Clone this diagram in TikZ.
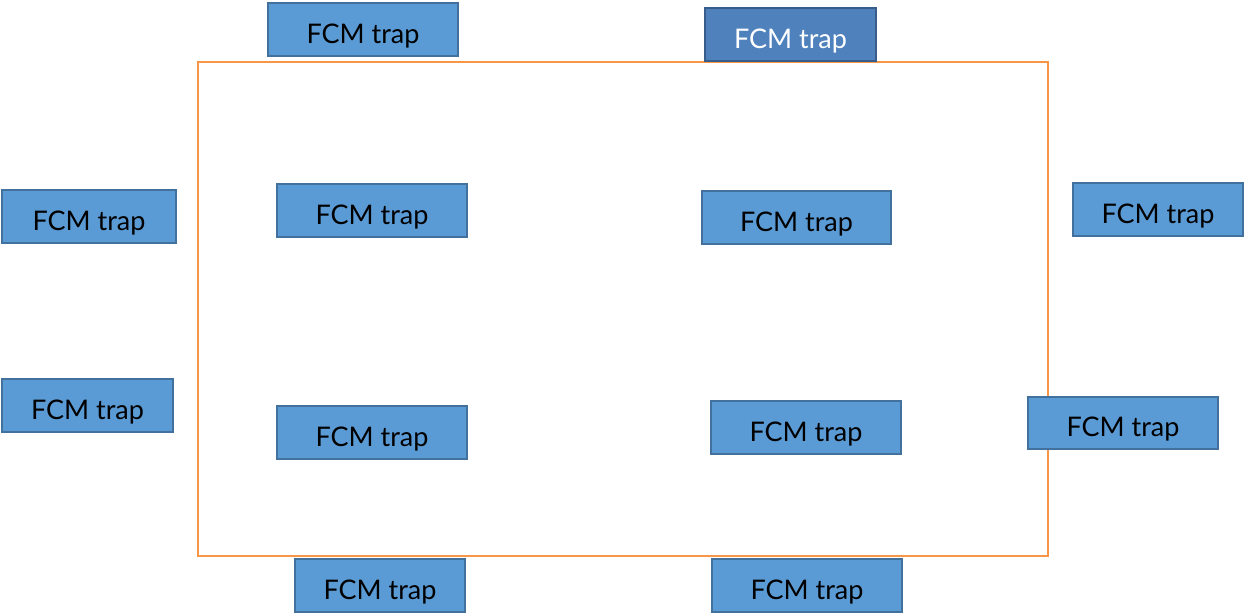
\documentclass[tikz,border=0pt]{standalone}
\usepackage{fontspec}
\setmainfont{Lato}
\definecolor{trapfill}{HTML}{5B9BD5}
\definecolor{trapline}{HTML}{41719C}
\definecolor{darkfill}{HTML}{4F81BD}
\definecolor{darkline}{HTML}{385D8A}
\definecolor{frame}{HTML}{F79646}
\tikzset{
  trap/.style={draw=trapline, fill=trapfill, line width=1.6pt, text=black,
    font=\fontsize{27}{30}\selectfont, inner sep=0pt,
    text height=27pt, text depth=0pt},
  traphi/.style={trap, draw=darkline, fill=darkfill, text=white},
}
% place a box by its corners: x0, y0, x1, y1
\newcommand{\trapbox}[6]{%
  \node[#1, minimum width={#4-#2}, minimum height={#5-#3}]
    (#6) at ({(#2+#4)/2},{-(#3+#5)/2}) {FCM trap};}
\begin{document}
\begin{tikzpicture}[x=1pt,y=1pt]
  \useasboundingbox (0,0) rectangle (1245,-614);
  % enclosure
  \node[draw=frame, line width=2pt, minimum width=850, minimum height=494, inner sep=0pt]
    (enclosure) at (623,-309) {};
  % traps
  \trapbox{trap}{268}{3}{458}{56}{t1}
  \trapbox{traphi}{705}{8}{876}{61}{t2}
  \trapbox{trap}{2}{190}{176}{243}{l1}
  \trapbox{trap}{2}{379}{173}{432}{l2}
  \trapbox{trap}{277}{184}{467}{237}{i1}
  \trapbox{trap}{702}{191}{891}{244}{i2}
  \trapbox{trap}{1073}{183}{1243}{236}{r1}
  \trapbox{trap}{277}{406}{467}{459}{i3}
  \trapbox{trap}{711}{401}{901}{454}{i4}
  \trapbox{trap}{1028}{397}{1218}{449}{r2}
  \trapbox{trap}{295}{559}{465}{612}{b1}
  \trapbox{trap}{712}{559}{902}{612}{b2}
\end{tikzpicture}
\end{document}
